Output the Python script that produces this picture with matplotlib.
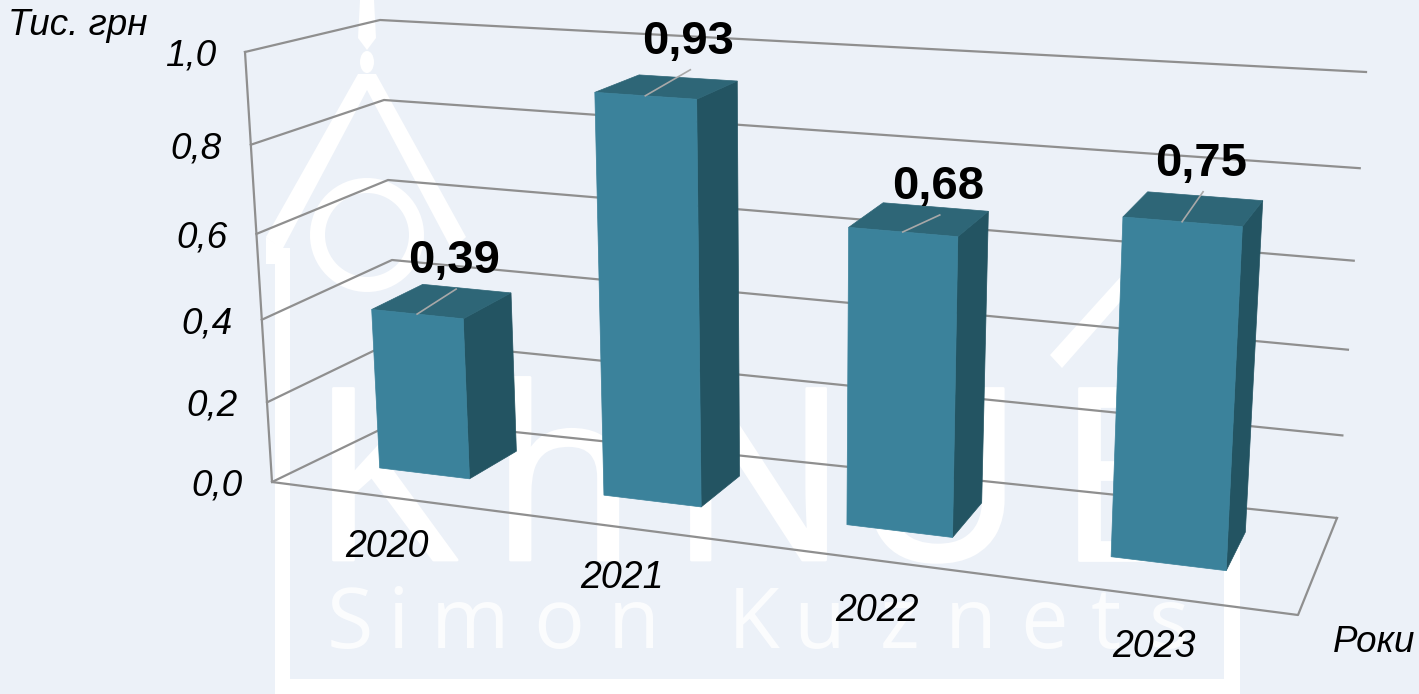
import numpy as np
import matplotlib
matplotlib.use("Agg")
import matplotlib.pyplot as plt
import matplotlib.patheffects as pe
from matplotlib.patches import Polygon, Circle, Rectangle, Ellipse

# DATA
years = ["2020", "2021", "2022", "2023"]
values = [0.39, 0.93, 0.68, 0.75]
y_ticks = [0.0, 0.2, 0.4, 0.6, 0.8, 1.0]
y_max = 1.0

# leader line offsets from the front edge of each bar top, pixels
leader_dx = [39, 45, 37, 21]
leader_dy = [-25, -26, -17, -30]

# STYLE
BG = "#ecf1f8"
FRONT = "#3b829b"
SIDE = "#235462"
TOP = "#2e6677"
GRID = "#8f8f8f"
FONT = "Liberation Sans"

# 3D box corners on screen, (x, value, depth) -> pixels
C000 = np.array([272, 482.0])
C100 = np.array([1298, 615.0])
C010 = np.array([245, 52.0])
C110 = np.array([1323, 125.0])
C001 = np.array([400, 420.0])
C101 = np.array([1337, 518.0])
C011 = np.array([380, 20.0])
C111 = np.array([1366, 72.0])

BAR_W = 0.41    # bar width, share of a category slot
D0, D1 = 0.35, 0.76


def project(u, v, w):
    # perspective warp along x and along the value axis
    s = u / (1.18 - 0.18 * u)
    b = 1.10 - 0.10 * w * (1 - s)
    t = v / (b + (1 - b) * v)
    front = (1-s)*(1-t)*C000 + s*(1-t)*C100 + (1-s)*t*C010 + s*t*C110
    back = (1-s)*(1-t)*C001 + s*(1-t)*C101 + (1-s)*t*C011 + s*t*C111
    return (1-w)*front + w*back


fig = plt.figure(figsize=(14.19, 6.94), dpi=100, facecolor=BG)
ax = fig.add_axes([0, 0, 1, 1])
ax.set_xlim(0, 1419)
ax.set_ylim(694, 0)
ax.axis("off")

# WATERMARK (background picture)
wm = "white"
ax.add_patch(Polygon([(358, 74), (376, 74), (466, 237), (452, 250), (367, 90), (282, 250), (266, 237)], fc=wm, ec="none", zorder=1))
ax.add_patch(Polygon([(360, 0), (374, 0), (376, 38), (367, 50), (358, 38)], fc=wm, ec="none", zorder=1))
ax.add_patch(Ellipse((367, 62), 14, 22, fc=wm, ec="none", zorder=1))
ax.add_patch(Circle((367, 235), 49.5, fc="none", ec=wm, lw=10.8, zorder=1))
ax.add_patch(Polygon([(266, 237), (266, 264), (275, 264), (275, 694), (290, 694), (290, 248), (282, 248)], fc=wm, ec="none", zorder=1))
ax.add_patch(Rectangle((275, 679), 965, 15, fc=wm, ec="none", zorder=1))
ax.add_patch(Rectangle((1224, 520), 16, 174, fc=wm, ec="none", zorder=1))
ax.add_patch(Polygon([(1050, 355), (1062, 368), (1135, 285), (1125, 272)], fc=wm, ec="none", zorder=1))
for ch, x in zip("KhNUE", [310, 490, 668, 850, 1056]):
    ax.text(x, 560, ch, color=wm, fontsize=173, family="Open Sans", ha="left", va="baseline", zorder=1,
            path_effects=[pe.withStroke(linewidth=2, foreground=wm)])
for ch, x in zip("SimonKuznets", [327, 387, 431, 533, 608, 728, 793, 880, 945, 1020, 1091, 1149]):
    ax.text(x, 648, ch, color=wm, alpha=0.8, fontsize=61, family="Open Sans", ha="left", va="baseline", zorder=1)

# WALLS AND GRID
for tick in y_ticks:
    v = tick / y_max
    pts = np.array([project(0, v, 0), project(0, v, 1), project(1, v, 1)])
    ax.plot(pts[:, 0], pts[:, 1], color=GRID, lw=1.6, zorder=2)
    p = project(0, v, 0)
    ax.text(p[0] - 29, p[1] + 4, "{:.1f}".format(tick).replace(".", ","), fontsize=26.5,
            style="italic", family=FONT, ha="right", va="center", zorder=6)
pts = np.array([project(0, 1, 0), project(0, 0, 0), project(1, 0, 0), project(1, 0, 1)])
ax.plot(pts[:, 0], pts[:, 1], color=GRID, lw=1.6, zorder=2)

# BARS
n = len(values)
for i, val in enumerate(values):
    u0 = (i + 0.5 - BAR_W / 2) / n
    u1 = (i + 0.5 + BAR_W / 2) / n
    uc = (i + 0.5) / n
    v = val / y_max
    side = [project(u1, 0, D0), project(u1, v, D0), project(u1, v, D1), project(u1, 0, D1)]
    top = [project(u0, v, D0), project(u1, v, D0), project(u1, v, D1), project(u0, v, D1)]
    front = [project(u0, 0, D0), project(u1, 0, D0), project(u1, v, D0), project(u0, v, D0)]
    ax.add_patch(Polygon(side, fc=SIDE, ec=SIDE, lw=0.5, zorder=3))
    ax.add_patch(Polygon(top, fc=TOP, ec=TOP, lw=0.5, zorder=3))
    ax.add_patch(Polygon(front, fc=FRONT, ec=FRONT, lw=0.5, zorder=4))

    # value label with leader line
    a = project(uc, v, D0)
    bx, by = a[0] + leader_dx[i], a[1] + leader_dy[i]
    ax.plot([a[0], bx], [a[1], by], color="#a8a8a8", lw=1.2, zorder=5)
    ax.text(bx - 2, by - 28, "{:.2f}".format(val).replace(".", ","), fontsize=34, fontweight="bold",
            family=FONT, ha="center", va="center", zorder=6)

    # category label
    p = project(uc, 0, 0)
    ax.text(p[0] + 4, p[1] + 51, years[i], fontsize=27, style="italic", family=FONT,
            ha="center", va="center", zorder=6)

# AXIS TITLES
ax.text(8, 25, "Тис. грн", fontsize=26.5, style="italic", family=FONT, ha="left", va="center", zorder=6)
ax.text(1333, 643, "Роки", fontsize=26.5, style="italic", family=FONT, ha="left", va="center", zorder=6)

fig.savefig("out.png", dpi=100, facecolor=BG)
